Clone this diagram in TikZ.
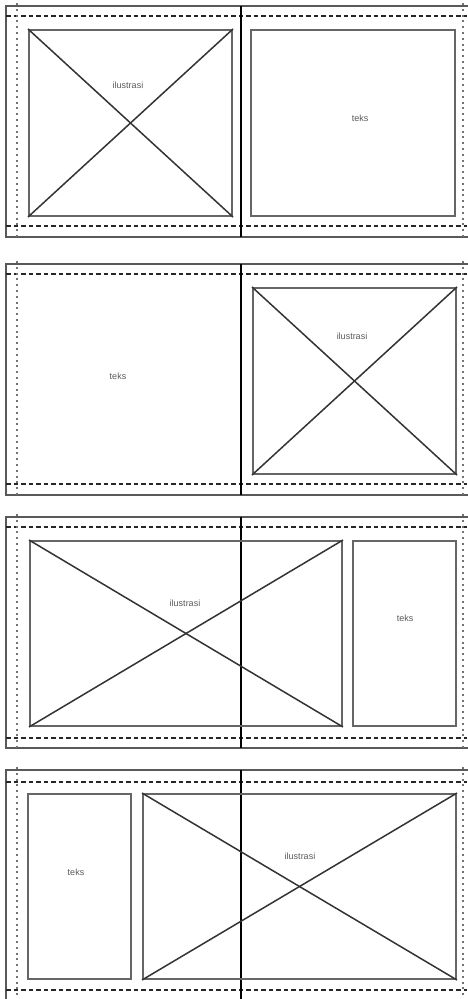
\documentclass[tikz,border=0pt]{standalone}
\usepackage{fontspec}
\setmainfont{Liberation Sans}
\begin{document}
\begin{tikzpicture}[x=1pt,y=-1pt,
  frame/.style={draw=black!65,line width=2pt},
  spine/.style={draw=black,line width=1.2pt},
  cutline/.style={draw=black!85,line width=1.2pt,dash pattern=on 4.5pt off 3pt},
  bleed/.style={draw=black!55,line width=2pt,dash pattern=on 2pt off 3.8pt},
  boxA/.style={draw=black!60,line width=2pt},
  crossline/.style={draw=black!80,line width=1.5pt},
  lbl/.style={font=\fontsize{9}{11}\selectfont,text=black!65,inner sep=1pt}]
\useasboundingbox (0,0) rectangle (467,999);
% ---------- panel 1 ----------
\draw[frame] (6,6) rectangle (475,237);
\draw[cutline] (6,16) -- (467,16);
\draw[cutline] (6,226) -- (467,226);
\draw[bleed] (17,3) -- (17,240);
\draw[bleed] (463,3) -- (463,240);
\draw[spine] (241,6) -- (241,237);
\node[boxA,minimum width=203pt,minimum height=186pt,inner sep=0pt,anchor=north west] (i1) at (28,29) {};
\draw[crossline] (i1.north west) -- (i1.south east);
\draw[crossline] (i1.south west) -- (i1.north east);
\node[lbl] (li1) at (128,85) {ilustrasi};
\node[boxA,minimum width=204pt,minimum height=186pt,inner sep=0pt,anchor=north west] (t1) at (250,29) {};
\node[lbl] (lt1) at (360,118) {teks};
% ---------- panel 2 ----------
\draw[frame] (6,264) rectangle (475,495);
\draw[cutline] (6,274) -- (467,274);
\draw[cutline] (6,484) -- (467,484);
\draw[bleed] (17,261) -- (17,498);
\draw[bleed] (463,261) -- (463,498);
\draw[spine] (241,264) -- (241,495);
\node[lbl] (lt2) at (118,376) {teks};
\node[boxA,minimum width=203pt,minimum height=186pt,inner sep=0pt,anchor=north west] (i2) at (252,287) {};
\draw[crossline] (i2.north west) -- (i2.south east);
\draw[crossline] (i2.south west) -- (i2.north east);
\node[lbl] (li2) at (352,336) {ilustrasi};
% ---------- panel 3 ----------
\draw[frame] (6,517) rectangle (475,748);
\draw[cutline] (6,527) -- (467,527);
\draw[cutline] (6,738) -- (467,738);
\draw[bleed] (17,514) -- (17,751);
\draw[bleed] (463,514) -- (463,751);
\draw[spine] (241,517) -- (241,748);
\node[boxA,minimum width=312pt,minimum height=185pt,inner sep=0pt,anchor=north west] (i3) at (29,540) {};
\draw[crossline] (i3.north west) -- (i3.south east);
\draw[crossline] (i3.south west) -- (i3.north east);
\node[lbl] (li3) at (185,603) {ilustrasi};
\node[boxA,minimum width=103pt,minimum height=185pt,inner sep=0pt,anchor=north west] (t3) at (352,540) {};
\node[lbl] (lt3) at (405,618) {teks};
% ---------- panel 4 ----------
\draw[frame] (6,770) rectangle (475,1005);
\draw[cutline] (6,782) -- (467,782);
\draw[cutline] (6,990) -- (467,990);
\draw[bleed] (17,767) -- (17,1002);
\draw[bleed] (463,767) -- (463,1002);
\draw[spine] (241,770) -- (241,1002);
\node[boxA,minimum width=103pt,minimum height=185pt,inner sep=0pt,anchor=north west] (t4) at (27,793) {};
\node[lbl] (lt4) at (76,872) {teks};
\node[boxA,minimum width=313pt,minimum height=185pt,inner sep=0pt,anchor=north west] (i4) at (142,793) {};
\draw[crossline] (i4.north west) -- (i4.south east);
\draw[crossline] (i4.south west) -- (i4.north east);
\node[lbl] (li4) at (300,856) {ilustrasi};
\end{tikzpicture}
\end{document}
